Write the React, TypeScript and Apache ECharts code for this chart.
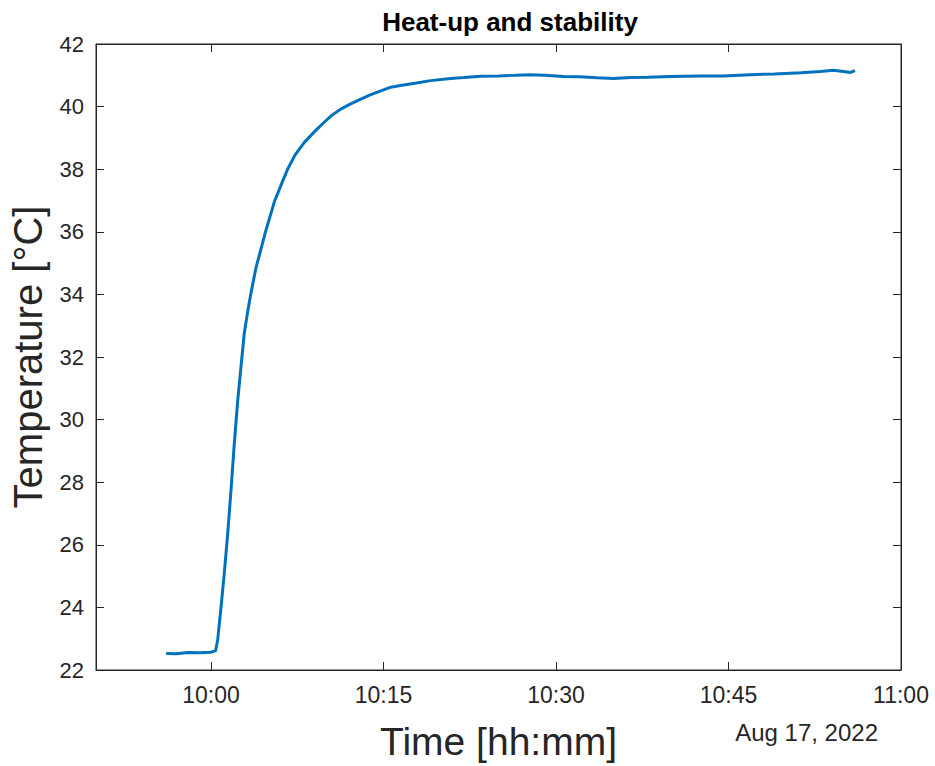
import React, { useEffect, useRef } from "react";
import * as echarts from "echarts";

// minutes relative to 10:00 on Aug 17, 2022
const timeMinutes = [
  -3.9, -3.0, -2.0, -1.0, 0.0, 0.4, 0.58, 0.87, 1.16, 1.45, 1.74, 2.02, 2.32, 2.61, 2.89,
  3.19, 3.48, 3.91, 4.49, 4.78, 5.5, 6.1, 6.66, 7.3, 8.1, 9.0, 9.84, 10.5, 11.29, 12.1,
  13.03, 13.9, 14.77, 15.64, 16.6, 17.6, 19.1, 20.85, 22.0, 23.46, 25.0, 26.5, 27.8, 29.0,
  30.67, 32.0, 33.6, 35.0, 36.5, 38.0, 40.0, 42.6, 44.5, 46.9, 49.0, 51.3, 53.0, 54.1, 55.0,
  55.6, 56.0,
];
const temperature = [
  22.53, 22.52, 22.56, 22.55, 22.57, 22.62, 22.96, 24.0, 25.1, 26.35, 27.75, 29.2, 30.6, 31.7,
  32.75, 33.45, 34.05, 34.85, 35.65, 36.05, 36.95, 37.5, 38.0, 38.45, 38.85, 39.2, 39.5, 39.72, 39.92,
  40.08, 40.24, 40.38, 40.5, 40.62, 40.68, 40.74, 40.83, 40.9, 40.93, 40.97, 40.98, 41.0, 41.02,
  41.0, 40.96, 40.95, 40.92, 40.9, 40.93, 40.94, 40.96, 40.98, 40.98, 41.02, 41.04, 41.08,
  41.12, 41.16, 41.12, 41.09, 41.15,
];
const xTickMinutesOfDay = [600, 615, 630, 645, 660];
const xMinOfDay = 590;
const xMaxOfDay = 660;
const dateLabel = "Aug 17, 2022";
const titleText = "Heat-up and stability";
const xName = "Time [hh:mm]";
const yName = "Temperature [°C]";

const AXIS = "#262626";
const FONT = "Liberation Sans, Arial, Helvetica, sans-serif";

function fmt(v: number) {
  const h = Math.floor(v / 60);
  const m = Math.round(v - h * 60);
  return `${h}:${m < 10 ? "0" + m : m}`;
}

export default function App() {
  const ref = useRef<HTMLDivElement>(null);
  useEffect(() => {
    if (!ref.current) return;
    const chart = echarts.init(ref.current, undefined, { renderer: "svg" });
    const data = timeMinutes.map((t, i) => [600 + t, temperature[i]]);
    const tickCommon = { show: true, inside: true, length: 8, lineStyle: { color: AXIS, width: 1 } };
    chart.setOption({
      animation: false,
      backgroundColor: "#ffffff",
      title: {
        text: titleText,
        left: 505,
        textAlign: "center",
        top: 4,
        textStyle: { fontFamily: FONT, fontWeight: "bold", fontSize: 26, color: "#000" },
      },
      grid: {
        left: 95,
        right: 34,
        top: 44,
        bottom: 96,
        show: true,
        borderColor: AXIS,
        borderWidth: 1,
        backgroundColor: "transparent",
      },
      xAxis: [
        {
          type: "value",
          min: xMinOfDay,
          max: xMaxOfDay,
          name: xName,
          nameLocation: "middle",
          nameGap: 52,
          nameTextStyle: { fontFamily: FONT, fontSize: 39, color: AXIS },
          axisLine: { show: true, lineStyle: { color: AXIS } },
          axisTick: { ...tickCommon, customValues: xTickMinutesOfDay },
          axisLabel: {
            customValues: xTickMinutesOfDay,
            formatter: (v: number) => fmt(v),
            fontFamily: FONT,
            fontSize: 23,
            color: AXIS,
            margin: 13,
          },
          splitLine: { show: false },
        },
        {
          type: "value",
          position: "top",
          min: xMinOfDay,
          max: xMaxOfDay,
          axisLine: { show: true, lineStyle: { color: AXIS } },
          axisTick: { ...tickCommon, customValues: xTickMinutesOfDay },
          axisLabel: { show: false },
          splitLine: { show: false },
        },
      ],
      yAxis: [
        {
          type: "value",
          min: 22,
          max: 42,
          interval: 2,
          name: yName,
          nameLocation: "middle",
          nameGap: 48,
          nameTextStyle: { fontFamily: FONT, fontSize: 40, color: AXIS },
          axisLine: { show: true, lineStyle: { color: AXIS } },
          axisTick: tickCommon,
          axisLabel: { fontFamily: FONT, fontSize: 22, color: AXIS, margin: 12 },
          splitLine: { show: false },
        },
        {
          type: "value",
          position: "right",
          min: 22,
          max: 42,
          interval: 2,
          axisLine: { show: true, lineStyle: { color: AXIS } },
          axisTick: tickCommon,
          axisLabel: { show: false },
          splitLine: { show: false },
        },
      ],
      graphic: [
        {
          type: "text",
          right: 57,
          top: 720,
          style: { text: dateLabel, fontFamily: FONT, fontSize: 24, fill: AXIS },
        },
      ],
      series: [
        {
          type: "line",
          data,
          xAxisIndex: 0,
          yAxisIndex: 0,
          showSymbol: false,
          symbol: "none",
          lineStyle: { color: "#0072BD", width: 3 },
          smooth: false,
        },
      ],
    });
    return () => chart.dispose();
  }, []);
  return (
    <div
      ref={ref}
      style={{ position: "absolute", left: 0, top: 0, width: 935, height: 766, background: "#fff" }}
    />
  );
}
